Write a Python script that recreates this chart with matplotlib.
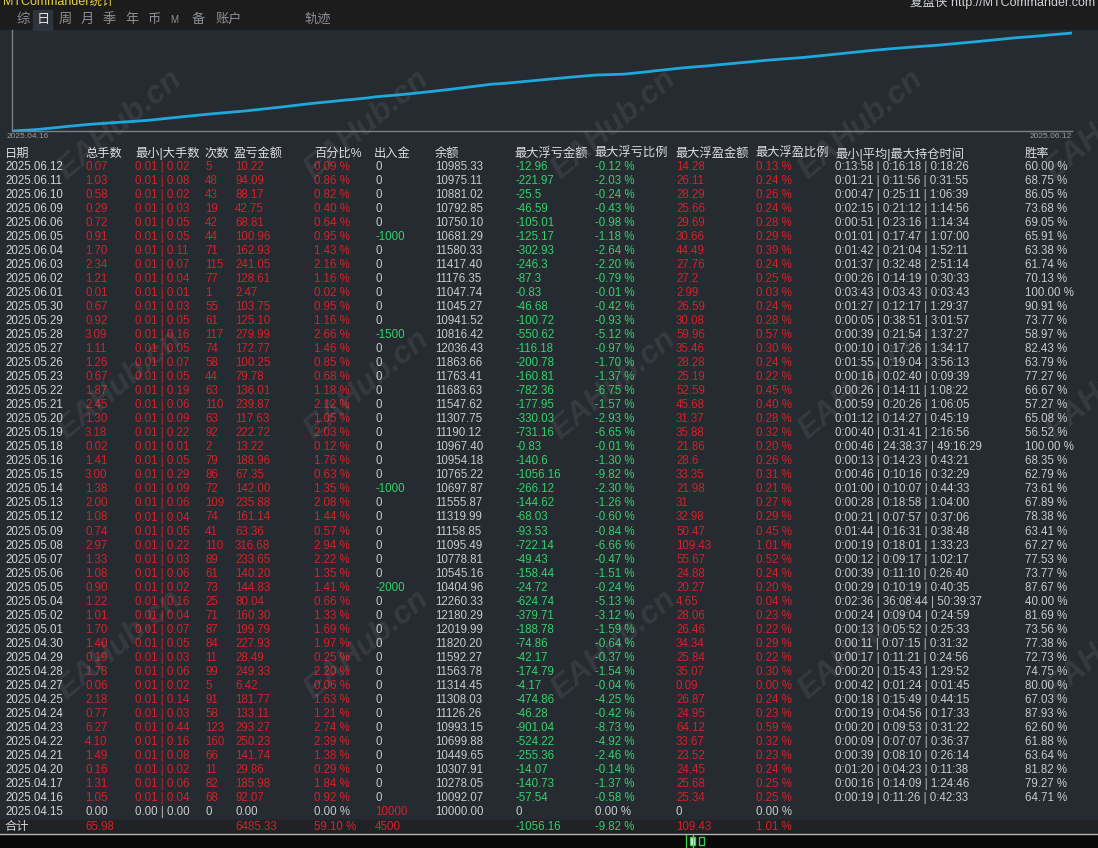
import matplotlib.pyplot as plt
from matplotlib.patches import Rectangle
import numpy as np

plt.rcParams['font.family'] = ['Liberation Sans', 'Noto Sans CJK SC', 'DejaVu Sans']

# daily statistics, newest first (as in the table)
dates = ['2025.06.12', '2025.06.11', '2025.06.10', '2025.06.09', '2025.06.06', '2025.06.05',
         '2025.06.04', '2025.06.03', '2025.06.02', '2025.06.01', '2025.05.30', '2025.05.29',
         '2025.05.28', '2025.05.27', '2025.05.26', '2025.05.23', '2025.05.22', '2025.05.21',
         '2025.05.20', '2025.05.19', '2025.05.18', '2025.05.16', '2025.05.15', '2025.05.14',
         '2025.05.13', '2025.05.12', '2025.05.09', '2025.05.08', '2025.05.07', '2025.05.06',
         '2025.05.05', '2025.05.04', '2025.05.02', '2025.05.01', '2025.04.30', '2025.04.29',
         '2025.04.28', '2025.04.27', '2025.04.25', '2025.04.24', '2025.04.23', '2025.04.22',
         '2025.04.21', '2025.04.20', '2025.04.17', '2025.04.16', '2025.04.15']
lots = [0.07, 1.03, 0.58, 0.29, 0.72, 0.91, 1.70, 2.34, 1.21, 0.01, 0.67, 0.92, 3.09, 1.11, 1.26, 0.67,
        1.87, 2.45, 1.30, 3.18, 0.02, 1.41, 3.00, 1.38, 2.00, 1.08, 0.74, 2.97, 1.33, 1.08, 0.90, 1.22,
        1.01, 1.70, 1.40, 0.19, 1.78, 0.06, 2.18, 0.77, 6.27, 4.10, 1.49, 0.16, 1.31, 1.05, 0.00]
lot_min = [0.01] * 46 + [0.00]
lot_max = [0.02, 0.08, 0.02, 0.03, 0.05, 0.05, 0.11, 0.07, 0.04, 0.01, 0.03, 0.05, 0.16, 0.05, 0.07, 0.05,
           0.19, 0.06, 0.09, 0.22, 0.01, 0.05, 0.29, 0.09, 0.06, 0.04, 0.05, 0.22, 0.03, 0.06, 0.02, 0.16,
           0.04, 0.07, 0.05, 0.03, 0.06, 0.02, 0.14, 0.03, 0.44, 0.16, 0.08, 0.02, 0.06, 0.04, 0.00]
trades = [5, 48, 43, 19, 42, 44, 71, 115, 77, 1, 55, 61, 117, 74, 58, 44, 63, 110, 63, 92, 2, 79, 86, 72,
          109, 74, 41, 110, 89, 61, 73, 25, 71, 87, 84, 11, 99, 5, 91, 58, 123, 160, 66, 11, 82, 68, 0]
profit = [10.22, 94.09, 88.17, 42.75, 68.81, 100.96, 162.93, 241.05, 128.61, 2.47, 103.75, 125.10,
          279.99, 172.77, 100.25, 79.78, 136.01, 239.87, 117.63, 222.72, 13.22, 188.96, 67.35, 142.00,
          235.88, 161.14, 63.36, 316.68, 233.65, 140.20, 144.83, 80.04, 160.30, 199.79, 227.93, 28.49,
          249.33, 6.42, 181.77, 133.11, 293.27, 250.23, 141.74, 29.86, 185.98, 92.07, 0.00]
profit_pct = [0.09, 0.86, 0.82, 0.40, 0.64, 0.95, 1.43, 2.16, 1.16, 0.02, 0.95, 1.16, 2.66, 1.46, 0.85,
              0.68, 1.18, 2.12, 1.05, 2.03, 0.12, 1.76, 0.63, 1.35, 2.08, 1.44, 0.57, 2.94, 2.22, 1.35,
              1.41, 0.66, 1.33, 1.69, 1.97, 0.25, 2.20, 0.06, 1.63, 1.21, 2.74, 2.39, 1.38, 0.29, 1.84,
              0.92, 0.00]
deposit = [0, 0, 0, 0, 0, -1000, 0, 0, 0, 0, 0, 0, -1500, 0, 0, 0, 0, 0, 0, 0, 0, 0, 0, -1000, 0, 0, 0,
           0, 0, 0, -2000, 0, 0, 0, 0, 0, 0, 0, 0, 0, 0, 0, 0, 0, 0, 0, 10000]
balance = [10985.33, 10975.11, 10881.02, 10792.85, 10750.10, 10681.29, 11580.33, 11417.40, 11176.35,
           11047.74, 11045.27, 10941.52, 10816.42, 12036.43, 11863.66, 11763.41, 11683.63, 11547.62,
           11307.75, 11190.12, 10967.40, 10954.18, 10765.22, 10697.87, 11555.87, 11319.99, 11158.85,
           11095.49, 10778.81, 10545.16, 10404.96, 12260.33, 12180.29, 12019.99, 11820.20, 11592.27,
           11563.78, 11314.45, 11308.03, 11126.26, 10993.15, 10699.88, 10449.65, 10307.91, 10278.05,
           10092.07, 10000.00]
float_loss = [-12.96, -221.97, -25.5, -46.59, -105.01, -125.17, -302.93, -246.3, -87.3, -0.83, -46.68,
              -100.72, -550.62, -116.18, -200.78, -160.81, -782.36, -177.95, -330.03, -731.16, -0.83,
              -140.6, -1056.16, -266.12, -144.62, -68.03, -93.53, -722.14, -49.43, -158.44, -24.72,
              -624.74, -379.71, -188.78, -74.86, -42.17, -174.79, -4.17, -474.86, -46.28, -901.04,
              -524.22, -255.36, -14.07, -140.73, -57.54, 0]
float_loss_pct = [-0.12, -2.03, -0.24, -0.43, -0.98, -1.18, -2.64, -2.20, -0.79, -0.01, -0.42, -0.93,
                  -5.12, -0.97, -1.70, -1.37, -6.75, -1.57, -2.93, -6.65, -0.01, -1.30, -9.82, -2.30,
                  -1.26, -0.60, -0.84, -6.66, -0.47, -1.51, -0.24, -5.13, -3.12, -1.59, -0.64, -0.37,
                  -1.54, -0.04, -4.25, -0.42, -8.73, -4.92, -2.46, -0.14, -1.37, -0.58, 0.00]
float_win = [14.28, 26.11, 28.29, 25.66, 29.69, 30.66, 44.49, 27.76, 27.2, 2.99, 26.59, 30.08, 59.96,
             35.46, 28.28, 25.19, 52.59, 45.68, 31.37, 35.88, 21.86, 28.6, 33.35, 21.98, 31, 32.98, 50.47,
             109.43, 55.67, 24.88, 20.27, 4.65, 28.06, 26.46, 34.34, 25.84, 35.07, 0.09, 26.87, 24.95,
             64.12, 33.67, 23.52, 24.45, 25.68, 25.34, 0]
float_win_pct = [0.13, 0.24, 0.26, 0.24, 0.28, 0.29, 0.39, 0.24, 0.25, 0.03, 0.24, 0.28, 0.57, 0.30,
                 0.24, 0.22, 0.45, 0.40, 0.28, 0.32, 0.20, 0.26, 0.31, 0.21, 0.27, 0.29, 0.45, 1.01,
                 0.52, 0.24, 0.20, 0.04, 0.23, 0.22, 0.29, 0.22, 0.30, 0.00, 0.24, 0.23, 0.59, 0.32,
                 0.23, 0.24, 0.25, 0.25, 0.00]
hold_times = ['0:13:58|0:16:18|0:18:26', '0:01:21|0:11:56|0:31:55', '0:00:47|0:25:11|1:06:39',
              '0:02:15|0:21:12|1:14:56', '0:00:51|0:23:16|1:14:34', '0:01:01|0:17:47|1:07:00',
              '0:01:42|0:21:04|1:52:11', '0:01:37|0:32:48|2:51:14', '0:00:26|0:14:19|0:30:33',
              '0:03:43|0:03:43|0:03:43', '0:01:27|0:12:17|1:29:37', '0:00:05|0:38:51|3:01:57',
              '0:00:39|0:21:54|1:37:27', '0:00:10|0:17:26|1:34:17', '0:01:55|0:19:04|3:56:13',
              '0:00:16|0:02:40|0:09:39', '0:00:26|0:14:11|1:08:22', '0:00:59|0:20:26|1:06:05',
              '0:01:12|0:14:27|0:45:19', '0:00:40|0:31:41|2:16:56', '0:00:46|24:38:37|49:16:29',
              '0:00:13|0:14:23|0:43:21', '0:00:46|0:10:16|0:32:29', '0:01:00|0:10:07|0:44:33',
              '0:00:28|0:18:58|1:04:00', '0:00:21|0:07:57|0:37:06', '0:01:44|0:16:31|0:38:48',
              '0:00:19|0:18:01|1:33:23', '0:00:12|0:09:17|1:02:17', '0:00:39|0:11:10|0:26:40',
              '0:00:29|0:10:19|0:40:35', '0:02:36|36:08:44|50:39:37', '0:00:24|0:09:04|0:24:59',
              '0:00:13|0:05:52|0:25:33', '0:00:11|0:07:15|0:31:32', '0:00:17|0:11:21|0:24:56',
              '0:00:20|0:15:43|1:29:52', '0:00:42|0:01:24|0:01:45', '0:00:18|0:15:49|0:44:15',
              '0:00:19|0:04:56|0:17:33', '0:00:20|0:09:53|0:31:22', '0:00:09|0:07:07|0:36:37',
              '0:00:39|0:08:10|0:26:14', '0:01:20|0:04:23|0:11:38', '0:00:16|0:14:09|1:24:46',
              '0:00:19|0:11:26|0:42:33', '']
win_rate = [60.00, 68.75, 86.05, 73.68, 69.05, 65.91, 63.38, 61.74, 70.13, 100.00, 90.91, 73.77, 58.97,
            82.43, 63.79, 77.27, 66.67, 57.27, 65.08, 56.52, 100.00, 68.35, 62.79, 73.61, 67.89, 78.38,
            63.41, 67.27, 77.53, 73.77, 87.67, 40.00, 81.69, 73.56, 77.38, 72.73, 74.75, 80.00, 67.03,
            87.93, 62.60, 61.88, 63.64, 81.82, 79.27, 64.71, None]

headers = ['日期', '总手数', '最小|大手数', '次数', '盈亏金额', '百分比%', '出入金', '余额',
           '最大浮亏金额', '最大浮亏比例', '最大浮盈金额', '最大浮盈比例', '最小|平均|最大持仓时间', '胜率']
tabs = ['综', '日', '周', '月', '季', '年', '币', 'M', '备', '账户', '轨迹']

total_lots = 65.98
total_profit = 6485.33
total_pct = 59.10
total_deposit = 4500
total_float_loss = -1056.16
total_float_loss_pct = -9.82
total_float_win = 109.43
total_float_win_pct = 1.01

# colours
BG = '#262a31'
TOP = '#1c1c1c'
RED = '#d42229'
GREEN = '#33d16a'
LIGHT = '#d2d4d8'
GRAY = '#c8cacd'
LINE = '#1ea8dc'

W, H = 1098, 848
fig = plt.figure(figsize=(W / 100, H / 100), dpi=100)
fig.patch.set_facecolor(BG)
ax = fig.add_axes([0, 0, 1, 1])
ax.set_xlim(0, W)
ax.set_ylim(H, 0)
ax.axis('off')

# background bands
ax.add_patch(Rectangle((0, 0), W, 30, color=TOP, zorder=0))
ax.add_patch(Rectangle((0, 30), W, 790, color=BG, zorder=0))
ax.add_patch(Rectangle((0, 820), W, 14, color='#202226', zorder=0))
ax.add_patch(Rectangle((0, 834), W, 14, color='#080808', zorder=0))
ax.plot([0, W], [834, 834], color='#b8b8b8', lw=1, zorder=1)

# title bar (cut by the top edge as in the screenshot)
ax.text(3, 2, 'MTCommander统计', color='#e6d23c', fontsize=9, va='center', ha='left')
ax.text(1095, 2, '复盘侠 http://MTCommander.com', color='#cfd3d8', fontsize=9, va='center', ha='right')

# tabs
tab_x = [16, 37, 59, 81, 103, 125, 147, 170, 192, 216, 304]
ax.add_patch(Rectangle((33, 10), 19, 20, color='#2f333b', zorder=1))
for tx, t in zip(tab_x, tabs):
    col = '#e0e0e0' if t == '日' else '#8d9096'
    fs = 7 if t == 'M' else 9.5
    ax.text(tx, 20, t, color=col, fontsize=fs, va='center', ha='left', zorder=2)

# equity curve: cumulative profit against cumulative trade count, in date order
chrono_profit = profit[::-1][1:]
chrono_trades = trades[::-1][1:]
equity = np.concatenate([[0.0], np.cumsum(chrono_profit)])
trade_axis = np.concatenate([[0], np.cumsum(chrono_trades)])
cax = fig.add_axes([12 / W, 1 - 131 / H, (1072 - 12) / W, (131 - 30) / H])
cax.set_facecolor('none')
cax.plot(trade_axis, equity, color=LINE, lw=2, solid_joinstyle='round')
cax.set_xlim(0, trade_axis[-1])
cax.set_ylim(0, total_profit / 0.97)
cax.set_xticks([])
cax.set_yticks([])
for s in ['top', 'right']:
    cax.spines[s].set_visible(False)
for s in ['left', 'bottom']:
    cax.spines[s].set_color('#7c7f85')
    cax.spines[s].set_linewidth(1)
ax.text(7, 137, dates[-2], color='#9a9ca0', fontsize=6, va='center', ha='left')
ax.text(1072, 137, dates[0], color='#9a9ca0', fontsize=6, va='center', ha='right')

# table
col_x = [5, 85, 135, 205, 235, 314, 375, 435, 515, 595, 676, 756, 835, 1025]
head_x = [5, 85, 135, 205, 234, 314, 374, 435, 514, 594, 675, 755, 835, 1025]
for hx, h in zip(head_x, headers):
    ax.text(hx, 154, h, color='#dcdde0', fontsize=8.8, va='center', ha='left')

FS = 8.3
row_h = 14.02
for i in range(len(dates)):
    y = 167 + i * row_h
    pos = profit[i] > 0
    c_main = RED if pos else GRAY
    c_dep = GRAY if deposit[i] == 0 else (GREEN if deposit[i] < 0 else RED)
    c_loss = GREEN if float_loss[i] < 0 else GRAY
    c_win = RED if float_win[i] > 0 else GRAY
    cells = [
        (dates[i], LIGHT),
        (f'{lots[i]:.2f}', c_main),
        (f'{lot_min[i]:.2f} | {lot_max[i]:.2f}', c_main),
        (f'{trades[i]}', c_main),
        (f'{profit[i]:.2f}', c_main),
        (f'{profit_pct[i]:.2f} %', c_main),
        (f'{deposit[i]}', c_dep),
        (f'{balance[i]:.2f}', GRAY),
        (f'{float_loss[i]:g}', c_loss),
        (f'{float_loss_pct[i]:.2f} %', c_loss),
        (f'{float_win[i]:g}', c_win),
        (f'{float_win_pct[i]:.2f} %', c_win),
        (hold_times[i].replace('|', ' | '), GRAY),
        ('' if win_rate[i] is None else f'{win_rate[i]:.2f} %', GRAY),
    ]
    for cx, (txt, col) in zip(col_x, cells):
        ax.text(cx, y, txt, color=col, fontsize=FS, va='center', ha='left')

# totals row
ty = 827
totals = [
    (5, '合计', LIGHT),
    (85, f'{total_lots:.2f}', RED),
    (235, f'{total_profit:.2f}', RED),
    (314, f'{total_pct:.2f} %', RED),
    (375, f'{total_deposit}', RED),
    (515, f'{total_float_loss:.2f}', GREEN),
    (595, f'{total_float_loss_pct:.2f} %', GREEN),
    (676, f'{total_float_win:.2f}', RED),
    (756, f'{total_float_win_pct:.2f} %', RED),
]
for tx, txt, col in totals:
    ax.text(tx, ty, txt, color=col, fontsize=FS if txt != '合计' else 8.8, va='center', ha='left')

# small green marks of the lower panel
ax.plot([686, 686], [835, 848], color='#3fcf4f', lw=1)
ax.plot([693, 693], [835, 848], color='#3fcf4f', lw=1)
ax.add_patch(Rectangle((690, 837), 5, 8, facecolor='#e8e8e8', edgecolor='#3fcf4f', lw=1))
ax.add_patch(Rectangle((699, 837), 5, 8, facecolor='none', edgecolor='#3fcf4f', lw=1))

# watermarks
for wy in [125, 385, 645, 905]:
    for wx in [120, 367, 614, 861, 1108]:
        ax.text(wx, wy, 'EAHub.cn', rotation=40, fontsize=23, fontweight='bold', style='italic',
                color='white', alpha=0.08, ha='center', va='center', zorder=5)

fig.savefig('out.png', dpi=100, facecolor=fig.get_facecolor())
